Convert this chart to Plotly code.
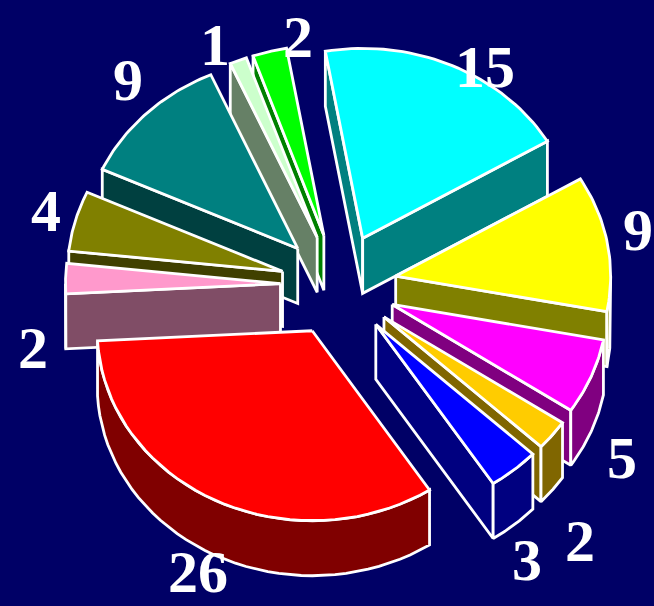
import math
import plotly.graph_objects as go

values = [15, 9, 5, 2, 3, 26, 2, 4, 9, 1, 2]
labels = ["15", "9", "5", "2", "3", "26", "2", "4", "9", "1", "2"]
top_colors = ["#00ffff", "#ffff00", "#ff00ff", "#ffcc00", "#0000ff", "#ff0000",
              "#ff99cc", "#808000", "#008080", "#ccffcc", "#00ff00"]
wall_colors = ["#008080", "#808000", "#800080", "#806600", "#000080", "#800000",
               "#804d66", "#404000", "#004040", "#668066", "#008000"]
label_x = [485, 638, 622, 580, 527, 198, 33, 46, 128, 215, 298]
label_y = [67, 230, 458, 541, 560, 572, 348, 211, 80, 45, 37]

BG = "#000066"
CX, CY = 338.5, 285
A, B = 215, 190
DEPTH = 55
EXPLODE = 0.27
START = 100.0
total = sum(values)


def arc(cx, cy, t0, t1, dy=0, n=40):
    return [(cx + A * math.cos(math.radians(t0 + (t1 - t0) * i / n)),
             cy + dy - B * math.sin(math.radians(t0 + (t1 - t0) * i / n))) for i in range(n + 1)]


def poly(pts, fill, lw=2.8):
    xs = [p[0] for p in pts] + [pts[0][0]]
    ys = [p[1] for p in pts] + [pts[0][1]]
    return go.Scatter(x=xs, y=ys, mode="lines", fill="toself", fillcolor=fill,
                      line=dict(color="white", width=lw), hoverinfo="skip", showlegend=False)


slices = []
t = START
for v, top, wall in zip(values, top_colors, wall_colors):
    span = v / total * 360
    t0, t1 = t, t - span
    mid = (t0 + t1) / 2
    cx = CX + EXPLODE * A * math.cos(math.radians(mid))
    cy = CY - EXPLODE * B * math.sin(math.radians(mid))
    slices.append((math.sin(math.radians(mid)), cx, cy, t0, t1, top, wall))
    t = t1

fig = go.Figure()
for _, cx, cy, t0, t1, top, wall in sorted(slices, key=lambda s: -s[0]):
    # only the radial walls that face the viewer
    for tt, facing in ((t0, math.cos(math.radians(t0)) < 0), (t1, math.cos(math.radians(t1)) > 0)):
        if facing:
            e = arc(cx, cy, tt, tt, n=1)[0]
            fig.add_trace(poly([(cx, cy), e, (e[0], e[1] + DEPTH), (cx, cy + DEPTH)], wall))
    lo, hi = min(t0, t1), max(t0, t1)
    for k in (-360, 0):
        a0, a1 = max(lo, -180 + k), min(hi, k)
        if a1 > a0:
            fig.add_trace(poly(arc(cx, cy, a0, a1) + arc(cx, cy, a1, a0, dy=DEPTH), wall))
    fig.add_trace(poly([(cx, cy)] + arc(cx, cy, t0, t1), top))

for txt, x, y in zip(labels, label_x, label_y):
    fig.add_annotation(x=x, y=y, text=txt, showarrow=False,
                       font=dict(family="Liberation Serif", size=60, color="white", weight="bold"))

fig.update_layout(width=654, height=606, margin=dict(l=0, r=0, t=0, b=0),
                  paper_bgcolor=BG, plot_bgcolor=BG, showlegend=False,
                  xaxis=dict(range=[0, 654], visible=False),
                  yaxis=dict(range=[606, 0], visible=False))
fig.write_html("out.html", config={"displayModeBar": False},
               post_script="document.body.style.margin='0';")
